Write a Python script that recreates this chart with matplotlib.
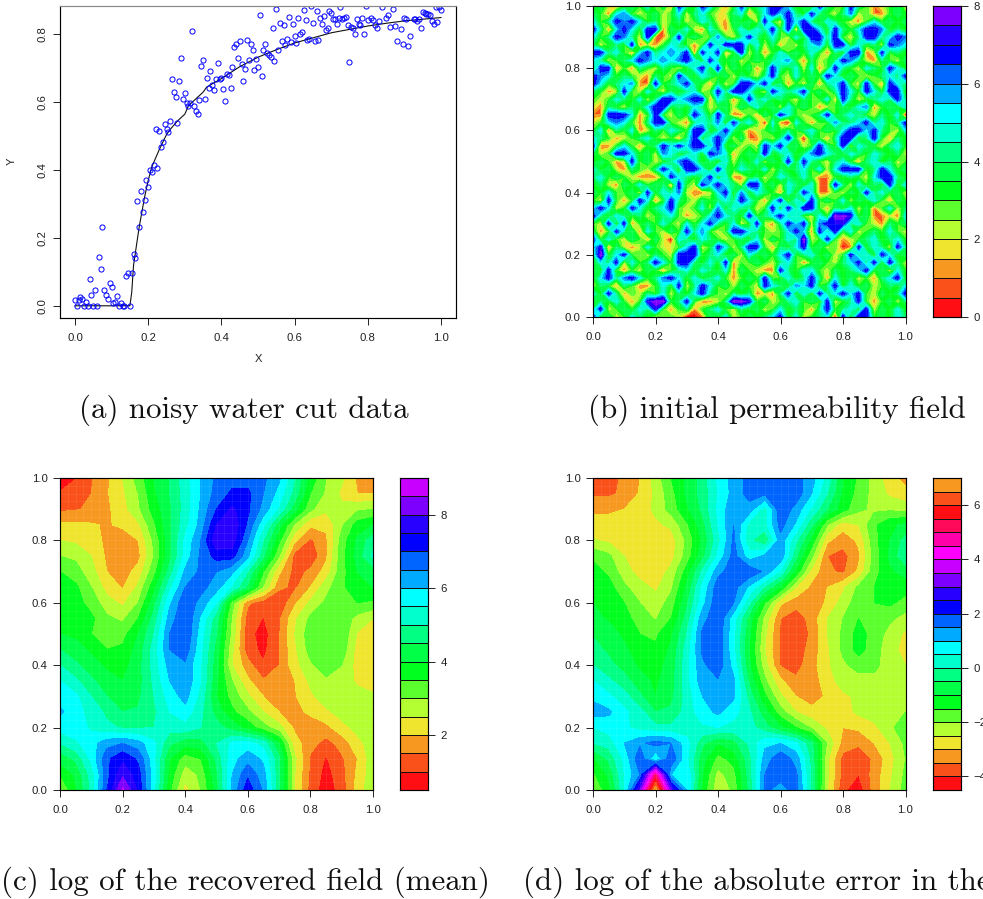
import numpy as np
import matplotlib
matplotlib.use("Agg")
import matplotlib.pyplot as plt
from matplotlib.colors import ListedColormap, BoundaryNorm

W, H = 983, 899

# (a) water cut: truth curve and noisy points
curve_x = [0, 0.15, 0.155, 0.16, 0.175, 0.19, 0.2, 0.21, 0.23, 0.25, 0.26, 0.28, 0.3, 0.31, 0.33, 0.35, 0.36,
           0.4, 0.45, 0.5, 0.55, 0.6, 0.65, 0.7, 0.75, 0.8, 0.85, 0.9, 0.95, 1.0]
curve_y = [0, 0, 0.04, 0.12, 0.23, 0.32, 0.37, 0.41, 0.46, 0.505, 0.52, 0.545, 0.565, 0.59, 0.61, 0.63, 0.645,
           0.67, 0.705, 0.733, 0.755, 0.775, 0.79, 0.805, 0.815, 0.825, 0.833, 0.84, 0.845, 0.85]
noisy_x = [0, .005, .01, .015, .02, .025, .03, .035, .04, .045, .05, .055, .06, .065, .07, .075, .08, .085, .09, .095,
           .1, .105, .11, .115, .12, .125, .13, .135, .14, .145, .15, .155, .16, .165, .17, .175, .18, .185, .19, .195,
           .2, .205, .21, .215, .22, .225, .23, .235, .24, .245, .25, .255, .26, .265, .27, .275, .28, .285, .29, .295,
           .3, .305, .31, .315, .32, .325, .33, .335, .34, .345, .35, .355, .36, .365, .37, .375, .38, .385, .39, .395,
           .4, .405, .41, .415, .42, .425, .43, .435, .44, .445, .45, .455, .46, .465, .47, .475, .48, .485, .49, .495,
           .5, .505, .51, .515, .52, .525, .53, .535, .54, .545, .55, .555, .56, .565, .57, .575, .58, .585, .59, .595,
           .6, .605, .61, .615, .62, .625, .63, .635, .64, .645, .65, .655, .66, .665, .67, .675, .68, .685, .69, .695,
           .7, .705, .71, .715, .72, .725, .73, .735, .74, .745, .75, .755, .76, .765, .77, .775, .78, .785, .79, .795,
           .8, .81, .815, .82, .825, .83, .84, .85, .855, .86, .87, .875, .88, .89, .895, .9, .905, .91, .915, .925,
           .93, .935, .94, .945, .95, .955, .96, .965, .97, .975, .98, .985, .99, .995, 1.0]
noisy_y = [.017, 0, .017, .025, .02, 0, .01, 0, .08, .032, 0, .047, 0, .143, .108, .233, .048, .033, .019, .068,
           .055, .007, .012, .03, 0, .008, 0, 0, .088, .097, 0, .097, .153, .142, .308, .231, .338, .276, .313, .37,
           .35, .399, .395, .416, .521, .407, .514, .468, .484, .535, .52, .512, .545, .668, .629, .615, .54, .662, .732, .61,
           .628, .597, .59, .597, .809, .588, .574, .567, .607, .708, .724, .611, .672, .642, .692, .65, .635, .668, .715, .668,
           .673, .638, .605, .684, .681, .641, .703, .762, .772, .731, .78, .712, .663, .698, .784, .725, .771, .755, .696, .728,
           .703, .856, .677, .753, .773, .744, .74, .734, .818, .722, .876, .755, .833, .78, .828, .77, .788, .852, .779, .831,
           .796, .774, .848, .8, .806, .872, .842, .785, .788, .883, .834, .78, .868, .783, .85, .832, .855, .814, .818, .868,
           .862, .845, .845, .832, .85, .881, .845, .848, .852, .827, .72, .822, .819, .802, .845, .831, .828, .848, .802, .883,
           .842, .85, .842, .828, .819, .839, .881, .85, .856, .822, .876, .825, .78, .817, .772, .85, .847, .767, .797, .847,
           .845, .84, .847, .82, .865, .863, .86, .859, .857, .84, .832, .881, .836, .881, .873]

# (b) initial permeability, rows from y=1 down to y=0, step 0.025
perm_rows = [
    [3,4,2,1,3,4,3,5,2,4,1,7,4,3,7,5,3,1,3,7,3,4,5,7,7,5,3,4,2,7,4,3,3,7,4,3,1,2,3,4,2],
    [4,3,1,5,6,3,2,3,4,2,3,5,2,4,5,3,2,2,4,5,1,3,5,7,5,7,4,3,7,4,3,2,4,6,2,3,1,1,3,4,3],
    [5,3,4,7,6,7,5,3,4,2,3,4,2,3,5,4,2,1,4,3,4,2,7,3,2,7,5,7,4,3,5,4,3,2,1,3,5,3,4,3,4],
    [7,4,1,5,7,5,3,7,7,1,4,3,5,2,1,5,3,1,3,5,3,5,4,7,3,7,1,7,7,5,3,7,4,3,5,7,7,6,3,4,3],
    [5,3,4,7,6,4,2,7,1,1,3,7,3,4,3,3,6,3,2,4,7,4,3,5,3,2,5,3,7,7,4,7,3,2,4,7,7,4,5,7,6],
    [4,2,3,4,3,7,1,2,1,3,5,4,3,1,3,7,4,7,7,7,3,5,2,4,1,3,2,4,5,6,3,7,7,3,5,3,4,2,7,6,5],
    [7,7,4,5,3,1,5,7,4,5,6,5,7,1,7,4,7,1,3,7,2,4,1,3,5,3,4,3,5,3,1,4,3,7,7,1,2,7,3,4,3],
    [5,4,2,3,4,5,7,6,5,6,5,6,7,5,3,7,4,3,4,2,3,4,3,4,5,6,3,1,4,2,3,4,7,6,4,2,1,4,3,2,4],
    [3,7,7,1,3,1,4,3,2,4,3,2,3,5,7,3,7,2,4,3,4,1,3,7,4,3,5,2,5,1,3,7,4,3,2,5,4,3,7,5,3],
    [7,6,5,3,4,3,2,1,4,3,2,7,4,3,5,4,3,4,2,4,3,2,4,7,3,2,5,3,4,3,7,5,3,4,3,2,3,4,5,4,7],
    [7,5,3,4,5,6,1,1,7,3,4,5,7,4,3,1,4,2,3,7,7,5,7,3,4,1,3,2,4,1,4,5,7,3,2,7,3,1,7,5,4],
    [4,3,1,2,7,3,2,5,3,2,4,3,4,5,2,3,7,4,7,7,5,3,2,7,5,4,5,7,3,4,2,4,7,5,3,7,5,3,7,7,3],
    [3,2,3,5,4,3,5,2,4,7,7,5,6,7,7,1,5,4,1,3,7,4,5,3,4,3,2,4,3,3,5,1,7,4,2,3,4,5,4,7,4],
    [2,1,4,3,2,4,3,5,7,7,3,4,3,5,4,2,3,4,2,4,3,5,3,4,2,5,3,4,3,1,2,3,4,3,5,6,1,3,4,3,5],
    [1,1,7,7,7,5,1,3,7,3,2,4,3,7,5,3,7,4,1,1,3,1,4,3,7,5,3,2,3,4,7,3,4,5,4,3,2,4,3,5,0],
    [2,3,5,6,5,3,1,4,7,7,3,2,1,4,5,4,6,3,7,4,5,3,0,5,1,0,5,3,1,3,3,6,4,4,5,7,4,5,3,4,7],
    [3,5,1,4,3,5,1,2,4,3,5,4,3,7,7,3,4,7,4,3,1,2,3,4,3,4,3,4,5,3,4,3,5,7,7,5,7,4,3,2,5],
    [5,4,3,1,2,3,4,5,3,2,3,1,4,7,3,5,7,5,2,4,1,1,3,2,4,7,3,0,4,3,1,4,7,7,3,4,7,3,1,4,3],
    [7,1,1,3,5,3,1,3,4,7,5,7,5,7,7,4,7,3,4,2,3,2,7,5,7,3,4,2,3,7,4,3,7,2,5,4,3,2,4,5,3],
    [4,2,3,7,7,5,3,4,2,6,5,3,4,5,3,7,6,5,1,3,4,3,7,3,4,5,3,4,6,7,5,4,3,5,4,3,5,4,3,4,2],
    [3,4,3,1,2,7,3,4,2,3,4,6,7,5,3,4,3,5,2,4,3,5,2,4,3,7,3,7,4,3,2,4,5,3,1,4,5,3,4,2,3],
    [5,3,4,2,1,4,3,2,4,7,5,3,7,7,5,3,7,4,3,5,4,3,5,2,4,3,4,5,3,5,2,5,7,7,7,3,4,7,5,3,4],
    [4,5,3,4,3,2,1,1,1,3,7,5,4,3,4,7,3,5,1,1,3,4,2,3,5,4,3,5,3,1,1,3,3,4,3,2,5,7,7,4,3],
    [3,4,2,1,4,3,5,3,4,4,1,7,3,2,7,5,7,5,4,2,7,7,3,4,2,5,4,3,5,1,1,7,4,2,5,3,4,3,7,3,5],
    [4,3,5,3,3,4,2,7,3,5,4,6,2,1,1,2,5,7,3,6,3,5,4,3,1,5,3,7,5,1,1,3,2,4,3,7,4,5,3,4,2],
    [3,2,7,3,1,3,7,5,1,3,7,4,3,2,4,3,4,5,4,7,5,3,1,4,7,2,5,3,7,3,4,3,5,2,4,3,5,3,1,4,3],
    [5,7,5,2,3,7,5,3,4,5,7,3,2,3,5,2,6,3,5,4,4,2,3,7,3,7,4,7,7,3,1,4,3,5,2,4,1,3,5,2,4],
    [7,4,3,5,4,3,4,2,3,4,5,3,1,2,3,5,7,5,4,3,7,3,4,5,7,4,5,3,2,5,3,8,8,7,3,4,1,1,2,1,5],
    [3,2,7,3,7,1,3,4,3,5,3,2,5,3,5,7,4,3,5,2,3,7,2,1,4,7,5,7,2,6,7,7,7,4,5,3,2,1,4,3,4],
    [4,1,3,7,4,4,1,5,3,2,4,3,7,4,6,3,2,3,7,7,5,4,3,2,3,5,7,5,1,7,4,7,3,5,2,3,4,3,5,3,2],
    [7,3,5,3,2,4,3,1,4,2,0,5,4,3,5,4,3,2,3,4,3,5,2,4,3,5,4,8,2,3,7,3,1,2,3,4,5,3,4,5,3],
    [5,7,1,4,2,1,2,5,3,2,2,3,5,7,2,3,7,5,2,4,7,7,3,1,4,3,5,7,3,4,2,3,0,1,7,3,5,4,2,7,4],
    [4,8,3,5,7,3,3,2,4,3,2,7,7,7,3,4,5,3,4,2,5,3,4,3,5,7,3,4,5,3,4,2,3,7,4,5,3,7,5,3,4],
    [3,5,4,7,2,5,3,4,7,5,3,7,7,4,3,5,3,7,1,3,3,4,3,2,4,5,3,1,3,4,3,2,4,5,7,4,7,3,7,4,2],
    [4,3,7,3,1,3,2,4,3,1,3,4,5,3,5,4,3,5,1,4,3,2,1,1,7,4,3,5,5,3,2,4,3,4,5,7,3,4,2,5,3],
    [3,5,7,4,6,7,5,3,4,6,7,5,3,5,3,4,5,3,1,3,4,3,7,3,3,5,3,4,7,4,1,5,3,4,2,3,1,4,5,7,3],
    [2,4,3,1,4,3,1,1,3,5,3,7,2,4,7,5,3,4,2,4,3,2,7,5,4,3,6,5,7,3,4,7,3,5,3,4,2,3,4,3,5],
    [5,3,7,4,1,3,2,4,3,5,2,4,3,5,7,4,3,2,4,3,4,1,2,1,4,7,3,5,3,7,4,5,7,5,7,3,2,4,3,4,7],
    [3,4,3,5,3,1,3,7,8,8,3,4,7,3,1,1,2,4,8,8,7,3,4,2,3,4,5,3,4,3,7,2,3,4,7,3,1,3,4,2,4],
    [4,7,2,3,4,3,5,4,7,3,1,3,4,1,3,4,5,3,2,4,3,4,2,3,5,3,4,3,1,4,7,3,4,5,3,7,2,4,3,5,3],
    [7,3,4,2,3,5,4,3,2,3,3,2,0,0,1,4,3,5,2,3,4,3,4,5,7,3,5,2,3,4,5,0,7,3,7,7,3,4,3,5,4],
]

# (c) log of recovered field, rows from y=1 down to y=0, step 0.05
mean_rows = [
    [.7,.98,1.45,1.9,2.5,3.2,4.0,4.5,5.3,6.0,6.6,6.8,6.8,6.6,6.1,5.0,3.8,3.0,2.6,1.9,1.8],
    [1.05,1.2,1.5,1.95,2.4,3.0,3.9,4.5,5.2,6.0,6.7,7.1,7.1,6.5,5.8,4.8,3.5,2.9,2.4,2.0,2.0],
    [1.4,1.45,1.6,1.9,2.3,2.9,3.7,4.4,5.2,6.1,7.0,7.6,7.1,6.3,5.4,4.2,3.1,2.6,2.6,2.9,3.0],
    [2.1,2.1,2.05,1.95,2.1,2.4,3.4,4.4,5.3,6.2,7.5,7.9,6.9,5.6,4.2,2.9,2.1,2.1,2.9,3.7,4.0],
    [2.5,2.4,2.2,1.9,1.7,2.0,3.1,4.3,5.6,6.5,7.9,7.8,6.5,5.0,3.6,2.1,1.4,1.9,3.2,4.1,4.8],
    [3.0,2.9,2.5,1.9,1.6,1.85,3.0,4.3,5.7,6.6,7.2,7.2,6.1,4.6,3.0,1.3,1.1,1.9,3.3,4.2,5.1],
    [3.5,3.2,2.7,2.0,1.75,2.2,3.3,4.7,6.1,6.6,6.5,6.1,5.0,3.5,2.1,1.3,1.6,2.2,3.3,4.0,4.2],
    [3.9,3.6,3.0,2.3,1.95,2.6,3.8,5.3,6.5,6.7,6.2,5.4,4.4,2.9,1.6,1.4,2.0,2.8,3.4,3.8,4.0],
    [4.0,3.7,3.3,2.7,2.4,3.0,4.3,5.9,6.9,6.3,5.5,3.2,1.6,1.2,1.1,1.9,2.6,3.1,3.4,3.5,3.4],
    [3.9,3.8,3.6,3.1,2.9,3.5,4.7,6.2,7.0,5.9,4.7,2.9,1.25,.98,1.4,2.4,3.1,3.4,3.4,2.8,2.5],
    [4.0,3.9,3.5,3.05,3.3,4.0,5.0,6.5,7.0,5.7,4.5,2.8,1.15,.8,1.45,2.5,3.3,3.4,3.4,2.45,2.2],
    [4.5,4.2,3.9,3.5,3.6,4.2,5.2,6.5,6.8,5.6,4.3,2.6,1.2,.88,1.45,2.4,3.2,3.4,3.3,2.3,2.2],
    [5.0,4.6,4.2,3.9,3.8,4.3,5.2,6.2,6.4,5.5,4.2,2.5,1.7,1.05,1.5,2.3,2.9,3.3,3.0,2.3,2.2],
    [5.5,5.1,4.6,4.2,4.0,4.3,5.1,6.0,6.4,5.5,4.1,3.0,2.1,1.55,1.55,2.0,2.6,2.9,2.8,2.4,2.2],
    [5.8,5.6,5.0,4.5,4.05,4.4,5.0,5.7,6.2,5.3,4.0,3.3,2.6,2.0,1.75,1.95,2.4,2.75,2.8,2.7,2.6],
    [6.1,5.7,5.3,4.9,4.5,4.55,4.9,5.5,5.8,5.1,4.3,3.6,3.1,2.5,2.0,1.85,2.1,2.4,2.7,2.8,2.9],
    [5.7,5.8,5.4,5.1,4.95,4.95,5.0,5.2,5.3,5.0,4.7,4.3,3.8,3.2,2.7,1.9,1.7,1.85,2.3,2.7,2.9],
    [5.0,5.4,5.8,6.3,6.5,6.2,5.6,4.6,4.2,4.3,5.0,5.6,5.7,5.3,4.0,2.2,1.7,1.3,1.7,2.3,2.8],
    [4.2,4.6,5.6,6.9,7.4,6.9,5.6,4.0,3.2,3.5,4.6,5.8,6.3,5.9,4.6,2.6,1.4,.95,1.4,2.0,2.8],
    [3.5,4.1,5.2,6.8,7.9,7.2,5.7,3.8,2.7,3.1,4.4,6.0,6.9,6.2,4.6,2.5,1.4,.8,1.3,2.1,2.8],
    [3.0,3.9,5.1,7.0,8.6,7.4,5.6,3.6,2.3,3.0,4.2,6.1,7.3,6.4,4.6,2.5,1.3,.7,1.2,2.2,2.9],
]

# (d) log of absolute error, rows from y=1 down to y=0, step 0.05
error_rows = [
    [-3.8,-3.7,-3.4,-3.0,-2.3,-1.5,-.9,-.3,.6,1.2,1.7,1.9,1.9,1.7,1.2,.3,-1.0,-1.6,-2.2,-2.8,-3.2],
    [-3.6,-3.6,-3.4,-2.95,-2.4,-1.7,-.9,-.3,.5,1.2,1.7,1.6,1.9,1.8,1.0,0,-1.1,-1.7,-2.2,-2.6,-2.8],
    [-3.1,-3.1,-3.0,-2.75,-2.4,-1.8,-1.1,-.4,.6,1.4,1.3,.2,1.9,1.3,.4,-.5,-1.3,-1.9,-2.1,-2.1,-2.2],
    [-2.8,-2.8,-2.8,-2.7,-2.6,-2.4,-1.6,-.7,.5,1.5,.3,.3,1.7,.9,-.4,-2,-2.8,-2.5,-1.6,-1.1,-.9],
    [-2.45,-2.6,-2.75,-2.8,-2.85,-2.75,-1.9,-.9,.3,1.6,.1,-.5,1.3,.1,-1.2,-2.9,-3.3,-2.9,-1.7,-1.0,-.3],
    [-1.6,-1.9,-2.5,-2.85,-2.95,-2.7,-1.8,-.7,.6,1.7,.7,1.1,1.4,-.4,-1.9,-3.5,-3.7,-3.1,-1.8,-.9,-.1],
    [-1.3,-1.6,-2.3,-2.7,-2.8,-2.35,-1.3,.1,1.3,1.8,1.9,1.4,.4,-1.2,-2.7,-3.4,-3.6,-2.9,-1.7,-1.1,-.8],
    [-1.1,-1.3,-1.9,-2.3,-2.6,-2.1,-.9,.6,1.8,1.7,.9,-.1,-1.1,-2.5,-3.15,-3.0,-2.6,-1.9,-1.5,-1.3,-1.3],
    [-1.0,-1.15,-1.5,-2.0,-2.3,-1.8,-.6,.8,1.9,1.5,.1,-1.5,-2.9,-3.3,-3.4,-2.9,-2.3,-1.7,-1.5,-1.4,-1.7],
    [-.9,-1.05,-1.3,-1.75,-2.05,-1.5,-.3,1.3,1.9,.7,-.7,-2.2,-3.5,-3.8,-3.3,-2.5,-2.0,-1.5,-1.6,-1.9,-2.2],
    [-.55,-.8,-1.1,-1.5,-1.6,-1.1,0,1.6,1.9,.6,-.9,-2.4,-3.6,-3.9,-3.4,-2.5,-1.9,-1.3,-1.7,-2.2,-2.6],
    [-.3,-.6,-.9,-1.3,-1.4,-.9,.2,1.6,1.9,.6,-1,-2.5,-3.6,-3.8,-3.3,-2.6,-1.9,-1.3,-1.8,-2.3,-2.7],
    [0,-.35,-.7,-1.1,-1.2,-.8,.3,1.4,1.8,.8,-.9,-2.3,-3.55,-3.7,-3.2,-2.6,-2.1,-1.8,-1.9,-2.2,-2.5],
    [.5,.1,-.3,-.8,-1.1,-.7,.3,1.3,1.45,1.1,-.6,-1.9,-2.9,-3.4,-3.3,-2.7,-2.3,-2.2,-2.1,-2.2,-2.3],
    [.9,.6,.2,-.4,-1.0,-.65,.2,1,1.4,1.1,-.2,-1.4,-2.4,-3,-3.3,-2.9,-2.6,-2.4,-2.3,-2.2,-2.2],
    [1.2,1.1,.6,.2,-.5,-.4,.2,.8,1.1,.7,.1,-.8,-1.8,-2.5,-2.8,-2.9,-2.7,-2.4,-2.3,-2.1,-2.0],
    [.5,.7,.6,.3,.15,.1,.2,.4,.5,.3,.2,-.3,-.9,-1.5,-2.1,-2.6,-3.0,-2.9,-2.6,-2.2,-1.5],
    [0,.2,1.0,1.4,1.7,1.5,.7,-.4,-1,-.7,.1,.9,1.0,.6,-.4,-2.1,-3.2,-3.4,-3.0,-2.5,-1.9],
    [-1.1,-.4,.6,1.9,.5,1.9,.6,-.8,-1.7,-1.3,-.2,1.2,1.9,1.3,-.2,-2.4,-3.7,-3.9,-3.4,-2.7,-2.0],
    [-1.6,-.9,.5,1.5,5.0,1.0,.9,-1,-2.2,-1.7,-.3,1.5,1.7,1.6,-.1,-2.4,-3.7,-4,-3.3,-2.6,-1.9],
    [-2,-1.2,.4,3,7,3,1,-1.2,-2.4,-1.9,-.4,1.6,1.3,1.7,-.1,-2.5,-3.9,-4.3,-3.3,-2.5,-1.8],
]

band_colors = ['#FF0F14', '#FA5019', '#F79820', '#EFE52E', '#B4FF32', '#5AFF2D', '#00FF1E', '#00FF46',
               '#00FF82', '#00FFCD', '#00FFFF', '#00AAFF', '#0064FF', '#0000FF', '#2800FF', '#7D00FF',
               '#C800FF', '#FF00FF', '#FF00AA', '#FF0A5A', '#FF0F14', '#FA5019', '#F79820']
perm_levels = np.arange(0, 8.5, 0.5)
mean_levels = np.arange(0.5, 9.5, 0.5)
error_levels = np.arange(-4.5, 7.5, 0.5)
perm_ticks = [0, 2, 4, 6, 8]
mean_ticks = [2, 4, 6, 8]
error_ticks = [-4, -2, 0, 2, 4, 6]
unit_ticks = [0, 0.2, 0.4, 0.6, 0.8, 1.0]

plt.rcParams['font.family'] = ['Liberation Sans', 'DejaVu Sans']
plt.rcParams['font.size'] = 8.2
plt.rcParams['axes.linewidth'] = 0.85
plt.rcParams['xtick.major.size'] = 5
plt.rcParams['ytick.major.size'] = 5
plt.rcParams['xtick.major.width'] = 0.7
plt.rcParams['ytick.major.width'] = 0.7
plt.rcParams['xtick.color'] = '#222222'
plt.rcParams['ytick.color'] = '#222222'

fig = plt.figure(figsize=(W / 100, H / 100), dpi=100)


def px_axes(x0, y0, x1, y1):
    return fig.add_axes([x0 / W, 1 - y1 / H, (x1 - x0) / W, (y1 - y0) / H])


def field_panel(box, bar, rows, levels, ticks):
    ax = px_axes(*box)
    cols = band_colors[:len(levels) - 1]
    cmap = ListedColormap(cols)
    norm = BoundaryNorm(levels, cmap.N)
    z = np.array(rows, dtype=float)[::-1]
    xs = np.linspace(0, 1, z.shape[1])
    ys = np.linspace(0, 1, z.shape[0])
    ax.contourf(xs, ys, z, levels=levels, cmap=cmap, norm=norm, extend='both')
    # faint seams of the filled polygons
    seams = np.arange(0.025, 1, 0.025)
    ax.vlines(seams, 0, 1, color='white', lw=0.4, alpha=0.13)
    ax.hlines(seams, 0, 1, color='white', lw=0.4, alpha=0.13)
    ax.set_xlim(0, 1)
    ax.set_ylim(0, 1)
    ax.set_xticks(unit_ticks)
    ax.set_yticks(unit_ticks)
    ax.set_xticklabels(['%.1f' % t for t in unit_ticks])
    ax.set_yticklabels(['%.1f' % t for t in unit_ticks])
    ax.tick_params(axis='x', pad=6)
    ax.tick_params(axis='y', pad=4)

    cax = px_axes(*bar)
    cax.pcolormesh([0, 1], levels, np.arange(len(cols))[:, None], cmap=cmap,
                   vmin=-0.5, vmax=len(cols) - 0.5, edgecolors='#111111', linewidth=0.7)
    cax.set_xlim(0, 1)
    cax.set_ylim(levels[0], levels[-1])
    cax.set_xticks([])
    cax.yaxis.tick_right()
    cax.set_yticks(ticks)
    cax.set_yticklabels([str(t).replace('-', '\u2212') for t in ticks])
    cax.tick_params(axis='y', pad=4)


# panel a
ax = px_axes(60, 6, 456, 318)
ax.plot(curve_x, curve_y, color='#111111', lw=0.8)
ax.plot(noisy_x, noisy_y, ls='none', marker='o', ms=3.7, mfc='none', mec='#0000FF', mew=0.7)
ax.set_xlim(-0.041, 1.041)
ax.set_ylim(-0.036, 0.884)
ax.set_xticks(unit_ticks)
ax.set_yticks([0, 0.2, 0.4, 0.6, 0.8])
ax.set_xticklabels(['%.1f' % t for t in unit_ticks])
ax.set_yticklabels(['%.1f' % t for t in [0, 0.2, 0.4, 0.6, 0.8]], rotation=90, va='center')
ax.tick_params(axis='x', pad=6)
ax.tick_params(axis='y', pad=4)
ax.spines['top'].set_color('#888888')
fig.text(258 / W, 1 - 359 / H, 'X', ha='center', va='center', color='#222222', fontsize=8)
fig.text(12 / W, 1 - 161 / H, 'Y', ha='center', va='center', color='#222222', fontsize=8, rotation=90)

field_panel((593, 6, 905.5, 317), (933, 6, 961, 317), perm_rows, perm_levels, perm_ticks)
field_panel((60, 478, 373, 790), (400, 478, 428, 790), mean_rows, mean_levels, mean_ticks)
field_panel((593, 478, 905.5, 790), (933, 478, 961, 790), error_rows, error_levels, error_ticks)

# captions, \u00af is the fi ligature slot of the cmr10 font
cap = dict(family=['cmr10', 'DejaVu Serif'], fontsize=22.3, color='#111111', va='baseline', ha='left')
fig.text(79 / W, 1 - 418 / H, '(a) noisy water cut data', **cap)
fig.text(588 / W, 1 - 418 / H, '(b) initial permeability \u00afeld', **cap)
fig.text(1 / W, 1 - 890 / H, '(c) log of the recovered \u00afeld (mean)', **cap)
fig.text(523 / W, 1 - 890 / H, '(d) log of the absolute error in the', **cap)

fig.savefig('out.png', dpi=100)
